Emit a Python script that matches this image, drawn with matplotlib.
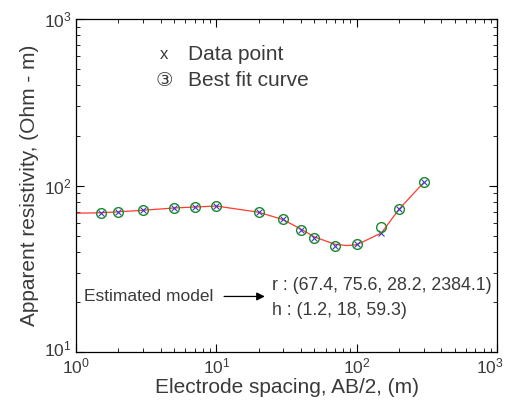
import matplotlib
matplotlib.use('Agg')
import matplotlib.pyplot as plt
from matplotlib.transforms import ScaledTranslation

plt.rcParams['font.family'] = ['Liberation Sans', 'DejaVu Sans']
plt.rcParams['mathtext.fontset'] = 'custom'
plt.rcParams['mathtext.rm'] = 'Liberation Sans'

# Measured sounding data (AB/2 in m, apparent resistivity in Ohm-m)
spacing = [1.5, 2, 3, 5, 7, 10, 20, 30, 40, 50, 70, 100, 150, 200, 300]
rho_data = [68.7, 69.7, 71.3, 73.6, 74.6, 75.3, 69.7, 62.9, 54.6, 48.9, 43.3, 44.5, 52.1, 72.6, 105.4]
# Best fit response at the same spacings
rho_fit = [68.7, 69.7, 71.3, 73.6, 74.6, 75.3, 69.7, 62.9, 54.6, 48.9, 43.3, 44.5, 56.6, 72.6, 105.4]
# Red curve
curve_x = [1, 1.5, 2, 3, 5, 7, 10, 20, 30, 40, 50, 70, 85, 100, 150, 200, 300]
curve_y = [68.5, 68.9, 69.8, 71.3, 73.6, 74.6, 75.6, 69.4, 62.6, 55.0, 49.3, 44.6, 43.8, 44.3, 52.1, 72.4, 104.5]

txt = '#3a3a3a'

fig = plt.figure(figsize=(5.08, 4.07), dpi=100)
ax = fig.add_axes([0.1496, 0.134, 0.829, 0.819])

ax.plot(curve_x, curve_y, color='#ff3b2f', lw=0.9, zorder=2)
ax.plot(spacing, rho_data, 'x', color='#3b3bd0', ms=4, mew=0.8, zorder=3)
ax.plot(spacing, rho_fit, 'o', mfc='none', mec='#1a8a2a', ms=7, mew=1.0, zorder=4)

ax.set_xscale('log')
ax.set_yscale('log')
ax.set_xlim(1, 1000)
ax.set_ylim(10, 1000)

ax.tick_params(which='both', direction='in', top=True, right=True, colors='black',
               labelcolor=txt, labelsize=12.5)
ax.tick_params(which='major', length=6, width=0.8, pad=3)
ax.tick_params(which='minor', length=3, width=0.6)
for s in ax.spines.values():
    s.set_linewidth(0.9)

ax.set_xlabel('Electrode spacing, AB/2, (m)', fontsize=15, color=txt, labelpad=1)
ax.set_ylabel('Apparent resistivity, (Ohm - m)', fontsize=15, color=txt, labelpad=4)

# nudge corner tick labels so they stay inside the figure and apart
fig.canvas.draw()
for tick in ax.xaxis.get_major_ticks():
    if abs(tick.get_loc() - 1000) < 1:
        tick.label1.set_transform(tick.label1.get_transform() +
                                  ScaledTranslation(-0.07, 0, fig.dpi_scale_trans))
for tick in ax.yaxis.get_major_ticks():
    if abs(tick.get_loc() - 10) < 0.1:
        tick.label1.set_transform(tick.label1.get_transform() +
                                  ScaledTranslation(0, 0.05, fig.dpi_scale_trans))

# legend drawn as text
ax.text(0.21, 0.895, 'x', transform=ax.transAxes, fontsize=12, color=txt,
        ha='center', va='center')
ax.text(0.265, 0.895, 'Data point', transform=ax.transAxes, fontsize=15, color=txt,
        va='center')
ax.text(0.21, 0.815, '\u2462', transform=ax.transAxes, fontsize=14, color=txt,
        ha='center', va='center', family=['DejaVu Sans', 'Noto Sans CJK SC'])
ax.text(0.265, 0.815, 'Best fit curve', transform=ax.transAxes, fontsize=15, color=txt,
        va='center')

# model annotation
ax.annotate('', xy=(0.455, 0.168), xycoords='axes fraction',
            xytext=(0.345, 0.168), textcoords='axes fraction',
            arrowprops=dict(arrowstyle='-|>', color='black', lw=0.9,
                            mutation_scale=12))
ax.text(0.02, 0.168, 'Estimated model', transform=ax.transAxes, fontsize=12.5,
        color=txt, va='center')
ax.text(0.465, 0.2, 'r : (67.4, 75.6, 28.2, 2384.1)', transform=ax.transAxes,
        fontsize=12.8, color=txt, va='center')
ax.text(0.465, 0.125, 'h : (1.2, 18, 59.3)', transform=ax.transAxes,
        fontsize=12.8, color=txt, va='center')

fig.savefig('out.png', dpi=100)
